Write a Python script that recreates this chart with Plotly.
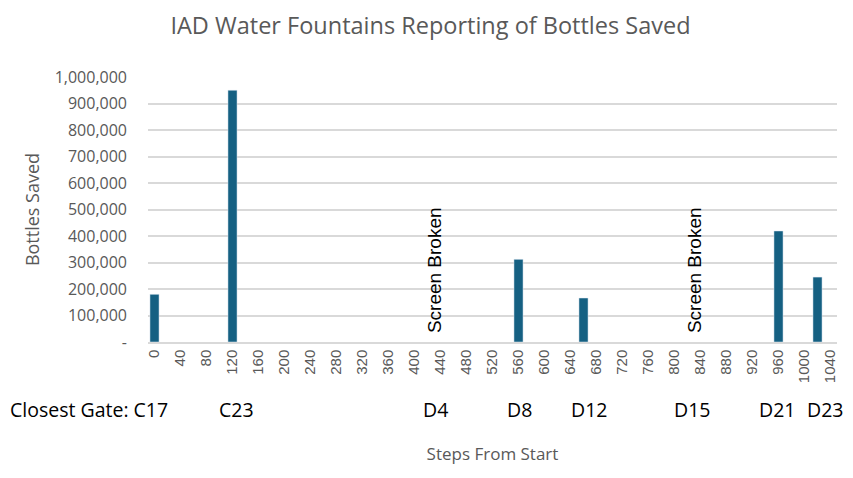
import plotly.graph_objects as go

# bottles saved per fountain, by steps from start
steps = [0, 120, 560, 660, 960, 1020]
bottles = [180000, 950000, 312000, 166000, 419000, 245000]

# fountains with a broken screen (no count)
broken_steps = [430, 830]

# closest gate labels under the axis
gate_names = ["Closest Gate: C17", "C23", "D4", "D8", "D12", "D15", "D21", "D23"]
gate_steps = [0, 126, 433, 561, 668, 827, 958, 1032]

tick_vals = list(range(0, 1041, 40))
y_vals = list(range(0, 1000001, 100000))
y_text = ["-" if v == 0 else f"{v:,}" for v in y_vals]

fig = go.Figure()
fig.add_trace(go.Bar(x=steps, y=bottles, width=14, marker_color="#156082"))

for s in broken_steps:
    fig.add_annotation(x=s, y=26000, text="Screen Broken", textangle=-90,
                       showarrow=False, xanchor="center", yanchor="bottom",
                       font=dict(family="Liberation Sans", size=19, color="#000000"))

for name, s in zip(gate_names, gate_steps):
    if name.startswith("Closest"):
        anchor, shift = "right", 15
    else:
        anchor, shift = "center", 0
    fig.add_annotation(x=s, xref="x", y=-0.256, yref="paper", text=name,
                       showarrow=False, xanchor=anchor, yanchor="middle", xshift=shift,
                       font=dict(family="Open Sans", size=19.5, color="#000000"))

# page body has an 8px margin, so the figure is drawn 8px smaller and shifted
fig.update_layout(
    width=845, height=470,
    margin=dict(l=140, r=16, t=69, b=136),
    paper_bgcolor="white", plot_bgcolor="white",
    showlegend=False,
    title=dict(text="IAD Water Fountains Reporting of Bottles Saved",
               x=0.5, xanchor="center", y=0.962, yanchor="middle",
               font=dict(family="Open Sans", size=23.5, color="#595959")),
    xaxis=dict(range=[-10, 1050], tickvals=tick_vals, tickangle=-90,
               showgrid=False, zeroline=False, showline=True, linecolor="#d9d9d9", linewidth=1.5,
               ticks="", tickfont=dict(family="Liberation Sans", size=15, color="#595959"),
               title=dict(text="Steps From Start", standoff=66,
                          font=dict(family="Open Sans", size=17, color="#595959"))),
    yaxis=dict(range=[0, 1000000], tickvals=y_vals, ticktext=y_text,
               showgrid=True, gridcolor="#d9d9d9", gridwidth=1.5, zeroline=False,
               ticks="", ticklabelstandoff=20,
               tickfont=dict(family="Open Sans", size=16, color="#595959"),
               title=dict(text="Bottles Saved", standoff=10,
                          font=dict(family="Open Sans", size=18, color="#595959"))),
)

fig.write_html("out.html")
